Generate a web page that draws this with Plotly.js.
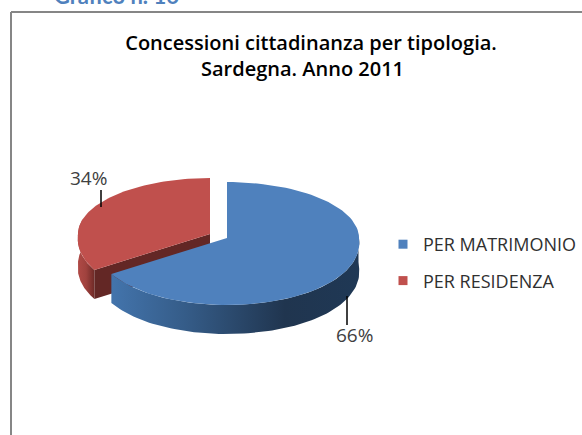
<!DOCTYPE html>
<html><head><meta charset="utf-8">
<script src="https://cdn.plot.ly/plotly-3.0.1.min.js"></script>
<style>html,body{margin:0;padding:0;background:#fff}#c{width:582px;height:435px}</style>
</head><body><div id="c"></div>
<script>
const sliceNames = ['PER MATRIMONIO', 'PER RESIDENZA'];
const sliceValues = [66, 34];
const topColors = ['#4F81BD', '#C0504D'];
const titleLines = ['Concessioni cittadinanza per tipologia.', 'Sardegna. Anno 2011'];
const headingText = 'Grafico n. 16';

// pie projection, in axis units
const centers = [[227, 238], [210, 234]];
const radiusX = 132, radiusUp = 56, radiusDown = 67, depth = 29, frontSpread = 0.07;

const total = sliceValues.reduce((a, b) => a + b, 0);
const blueEnd = 360 * sliceValues[0] / total;

function edge(c, deg) {
  const t = deg * Math.PI / 180, cs = Math.cos(t);
  const grow = cs < 0 ? 1 - frontSpread * cs : 1;
  return [c[0] + radiusX * Math.sin(t) * grow, c[1] - (cs > 0 ? radiusUp : radiusDown) * cs];
}
function arc(c, a, b) {
  const pts = [];
  for (let i = 0; i <= 90; i++) pts.push(edge(c, a + (b - a) * i / 90));
  return pts;
}
function poly(pts, extra) {
  return Object.assign({
    x: pts.map(p => p[0]), y: pts.map(p => p[1]),
    type: 'scatter', mode: 'lines', fill: 'toself', line: {width: 0},
    hoverinfo: 'skip', showlegend: false
  }, extra);
}
function sidePoly(c, a, b) {
  const top = arc(c, a, b);
  const low = top.slice().reverse().map(p => [p[0], p[1] + depth]);
  return top.concat(low);
}
function grad(stops) {
  return {fillgradient: {type: 'horizontal', colorscale: stops}};
}

const blue = centers[0], red = centers[1];
const redCorner = edge(red, blueEnd);
const traces = [
  poly(sidePoly(red, blueEnd, 285), grad([[0, '#B04A46'], [0.5, '#A0423E'], [1, '#6E2A27']])),
  poly([red, redCorner, [redCorner[0], redCorner[1] + depth], [red[0], red[1] + depth]], {fillcolor: '#632725'}),
  poly([red].concat(arc(red, blueEnd, 360)), {fillcolor: topColors[1]}),
  poly(sidePoly(blue, 85, blueEnd), grad([[0, '#4374AC'], [0.3, '#355C88'], [0.7, '#20354F'], [1, '#1F3855']])),
  poly([blue].concat(arc(blue, 0, blueEnd)), {fillcolor: topColors[0]})
];
sliceNames.forEach((n, i) => traces.push({
  x: [null], y: [null], type: 'scatter', mode: 'markers', name: n,
  legendgroup: n, marker: {symbol: 'square', size: 9, color: topColors[i]}
}));

const labelFont = {family: '"Open Sans", sans-serif', size: 19, color: '#404040'};
const titleFont = {family: '"Open Sans", sans-serif', size: 20, color: '#000', weight: 600};
const pct = v => Math.round(100 * v / total) + '%';
const layout = {
  width: 582, height: 435,
  margin: {l: 0, r: 0, t: 0, b: 0},
  paper_bgcolor: '#fff', plot_bgcolor: '#fff',
  title: {text: titleLines[0], x: 311 / 582, xanchor: 'center', y: 1 - 43 / 435, yanchor: 'middle', font: titleFont},
  xaxis: {range: [0, 582], visible: false, fixedrange: true},
  yaxis: {range: [435, 0], visible: false, fixedrange: true},
  showlegend: true,
  legend: {x: 383 / 582, xanchor: 'left', y: 1 - 226 / 435, yanchor: 'top',
           tracegroupgap: 10, bgcolor: 'rgba(0,0,0,0)',
           font: {family: '"Open Sans", sans-serif', size: 18, color: '#303030'}},
  shapes: [
    {type: 'line', x0: 11, x1: 11, y0: 12, y1: 435, line: {color: '#868686', width: 2}},
    {type: 'line', x0: 11, x1: 582, y0: 12, y1: 12, line: {color: '#868686', width: 2}},
    {type: 'line', x0: 101, x1: 101, y0: 190, y1: 207, line: {color: '#000', width: 1.5}},
    {type: 'line', x0: 347, x1: 347, y0: 296, y1: 325, line: {color: '#000', width: 1.5}}
  ],
  annotations: [
    {text: headingText, x: 52, y: 11, xanchor: 'left', yanchor: 'bottom', showarrow: false,
     font: {family: 'Lato, sans-serif', size: 22, color: '#4F81BD', weight: 700}},
    {text: titleLines[1], x: 302, y: 68, showarrow: false, font: titleFont},
    {text: pct(sliceValues[1]), x: 88, y: 178, showarrow: false, font: labelFont},
    {text: pct(sliceValues[0]), x: 354, y: 335, showarrow: false, font: labelFont}
  ]
};
Plotly.newPlot('c', traces, layout, {staticPlot: true, displayModeBar: false});
</script></body></html>
